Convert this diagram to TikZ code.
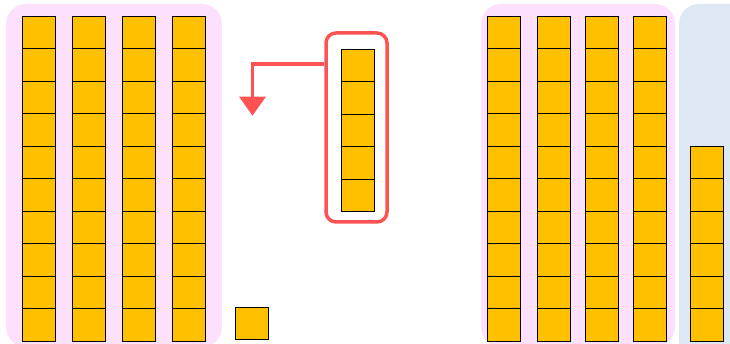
\documentclass[tikz,border=0pt]{standalone}
\usetikzlibrary{arrows.meta}
\definecolor{cubefill}{HTML}{FFC000}
\definecolor{pinkbg}{HTML}{FDE0FC}
\definecolor{bluebg}{HTML}{DDE8F4}
\definecolor{redline}{HTML}{FF5252}
\tikzset{
  cube/.style={draw=black, line width=0.9pt, fill=cubefill, minimum width=33pt, minimum height=32.5pt, inner sep=0pt, outer sep=0pt},
  panel/.style={rounded corners=20pt, draw=none},
  groupbox/.style={draw=redline, line width=3.5pt, rounded corners=10pt, minimum width=61pt, minimum height=189pt, inner sep=0pt},
  movearrow/.style={draw=redline, line width=3.5pt, -{Triangle[width=26pt,length=19pt]}}
}
\begin{document}
\begin{tikzpicture}[x=1pt,y=-1pt]
\useasboundingbox (0,0) rectangle (730,344);
% background panels
\fill[pinkbg, panel] (6,4) rectangle (222,347);
\fill[pinkbg, panel] (481,4) rectangle (675,347);
\fill[bluebg, panel] (679,4) rectangle (760,360);
% left tens
\foreach \c/\x in {1/38.5,2/88.5,3/138.5,4/188.5}{
  \foreach \r in {0,...,9}{
    \node[cube] (L\c-\r) at (\x,{16+32.5*(\r+0.5)}) {};
  }
}
% single unit
\node[cube] (unit) at (251.5,323.5) {};
% red group of five
\node[groupbox] (grp) at (356.5,127.5) {};
\foreach \r in {0,...,4}{
  \node[cube] (G-\r) at (358,{49.3+32.5*(\r+0.5)}) {};
}
\coordinate (tip) at (252.5,115.7);
\path[movearrow] (grp.west |- 0,64) -| (tip);
% right tens
\foreach \c/\x in {1/504,2/554,3/602,4/649.5}{
  \foreach \r in {0,...,9}{
    \node[cube] (R\c-\r) at (\x,{16+32.5*(\r+0.5)}) {};
  }
}
% blue six
\foreach \r in {0,...,5}{
  \node[cube] (B-\r) at (706.8,{146+32.5*(\r+0.5)}) {};
}
\end{tikzpicture}
\end{document}
